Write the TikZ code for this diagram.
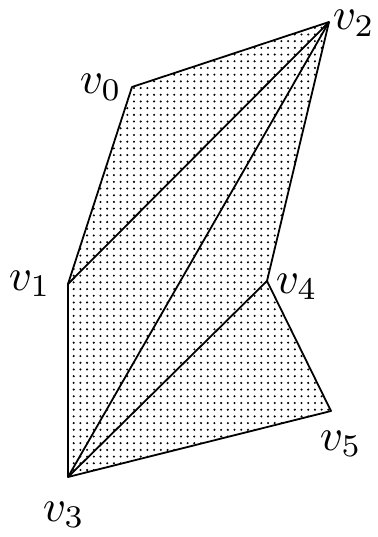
\documentclass[tikz,border=0pt]{standalone}
\usetikzlibrary{patterns.meta}
\tikzset{
  lbl/.style={inner sep=0pt,scale=4.5,anchor=base west},
  edge/.style={line width=1.8pt,line join=round},
}
\begin{document}
\begin{tikzpicture}[x=1pt,y=-1pt]
\useasboundingbox (0,0) rectangle (377,537);
\coordinate (v0) at (132,87);
\coordinate (v2) at (329,22);
\coordinate (v4) at (267,281);
\coordinate (v5) at (331,411);
\coordinate (v3) at (68,477);
\coordinate (v1) at (68,284);
\fill[pattern={Dots[distance=6.7pt,radius=1.15pt]}] (v0) -- (v2) -- (v4) -- (v5) -- (v3) -- (v1) -- cycle;
\draw[edge] (v0) -- (v2) -- (v4) -- (v5) -- (v3) -- (v1) -- cycle;
\draw[edge] (v1) -- (v2);
\draw[edge] (v3) -- (v2);
\draw[edge] (v3) -- (v4);
\node[lbl] (l0) at (79,94) {$v_0$};
\node[lbl] (l2) at (332,30) {$v_2$};
\node[lbl] (l1) at (8,290) {$v_1$};
\node[lbl] (l4) at (275,293) {$v_4$};
\node[lbl] (l5) at (319,450) {$v_5$};
\node[lbl] (l3) at (42,521) {$v_3$};
\end{tikzpicture}
\end{document}
